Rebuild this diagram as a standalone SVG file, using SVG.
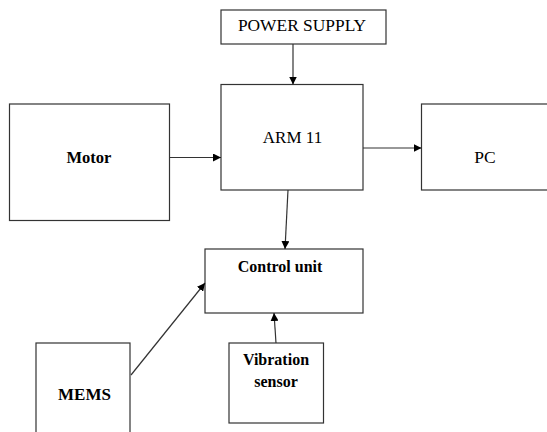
<svg xmlns="http://www.w3.org/2000/svg" width="547" height="432" viewBox="0 0 547 432">
<style>
.box{fill:#fff;stroke:#333;stroke-width:1.2}
.t{font-family:'Liberation Serif','Times New Roman',Times,serif;fill:#000;text-anchor:middle}
.b{font-weight:bold}
.c{stroke:#333;stroke-width:1.2;fill:none}
</style>
<defs>
<marker id="ah" viewBox="0 0 10 10" refX="10" refY="5" markerWidth="8" markerHeight="8" markerUnits="userSpaceOnUse" orient="auto">
<path d="M0,0 L10,5 L0,10 z" fill="#000"/>
</marker>
</defs>
<rect width="547" height="432" fill="#fff"/>
<g id="power">
<rect class="box" x="221" y="10" width="165" height="34"/>
<text class="t" x="302" y="31" font-size="17.4">POWER SUPPLY</text>
</g>
<g id="arm">
<rect class="box" x="221" y="84.5" width="142" height="105.5"/>
<text class="t" x="292.5" y="143" font-size="17">ARM 11</text>
</g>
<g id="motor">
<rect class="box" x="9.5" y="104" width="160" height="116.5"/>
<text class="t b" x="89" y="163" font-size="16.5">Motor</text>
</g>
<g id="pc">
<rect class="box" x="421.5" y="104" width="140" height="86"/>
<text class="t" x="485" y="163" font-size="17.5">PC</text>
</g>
<g id="control">
<rect class="box" x="205" y="249" width="158" height="64"/>
<text class="t b" x="280" y="271.5" font-size="16">Control unit</text>
</g>
<g id="mems">
<rect class="box" x="36" y="343" width="94" height="100"/>
<text class="t b" x="84.5" y="400" font-size="17">MEMS</text>
</g>
<g id="vibration">
<rect class="box" x="229" y="343" width="94.5" height="80"/>
<text class="t b" x="276" y="365" font-size="16">Vibration</text>
<text class="t b" x="276" y="387" font-size="16">sensor</text>
</g>
<g id="connectors">
<line class="c" x1="293" y1="44" x2="293" y2="84.5" marker-end="url(#ah)"/>
<line class="c" x1="169.5" y1="157.5" x2="221" y2="157.5" marker-end="url(#ah)"/>
<line class="c" x1="363" y1="148" x2="421.5" y2="148" marker-end="url(#ah)"/>
<line class="c" x1="288" y1="190" x2="285" y2="249" marker-end="url(#ah)"/>
<line class="c" x1="131" y1="375" x2="205" y2="283" marker-end="url(#ah)"/>
<line class="c" x1="276" y1="343" x2="274" y2="313" marker-end="url(#ah)"/>
</g>
</svg>
